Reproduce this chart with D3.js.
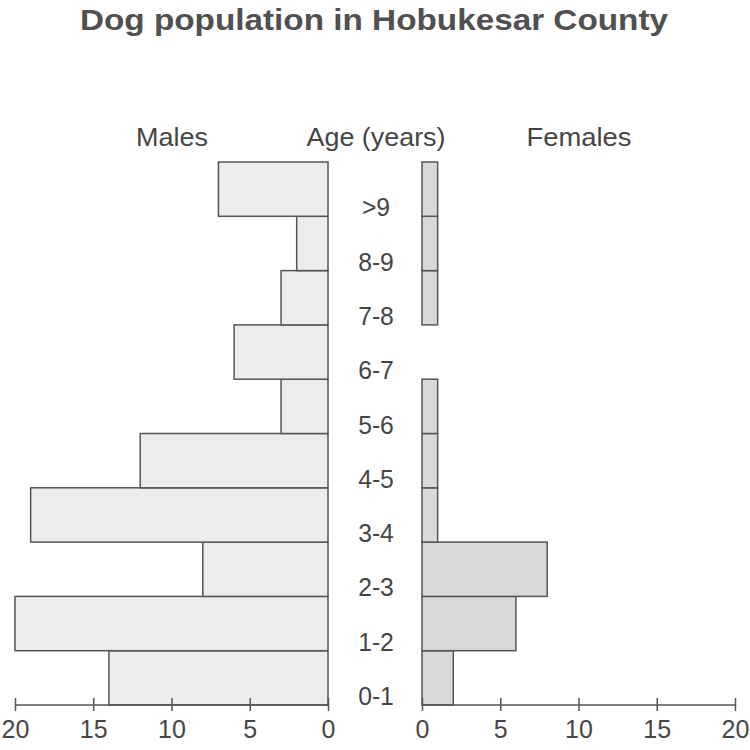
<!DOCTYPE html>
<html><head><meta charset="utf-8">
<script src="https://cdn.jsdelivr.net/npm/d3@7"></script>
<style>body{margin:0;background:#fff}text{font-family:"Liberation Sans",Arial,sans-serif}</style>
</head><body><svg id="c" width="750" height="750"></svg>
<script>
const ages = ["0-1","1-2","2-3","3-4","4-5","5-6","6-7","7-8","8-9",">9"];
const males = [14,20,8,19,12,3,6,3,2,7];
const females = [2,6,8,1,1,1,0,1,1,1];
const ticks = [0,5,10,15,20];

(function(){
const svg = d3.select("#c");
const txt = "#454545";
const yTop = 162, yBottom = 705;
const y = d3.scaleBand().domain(ages.slice().reverse()).range([yTop, yBottom]).padding(0);
const xL = d3.scaleLinear().domain([0,20]).range([328,15]);
const xR = d3.scaleLinear().domain([0,20]).range([422,735]);

svg.append("text").attr("x",374).attr("y",30).attr("text-anchor","middle")
  .attr("font-size",30).attr("font-weight","bold").attr("fill","#505050")
  .attr("textLength",588).attr("lengthAdjust","spacingAndGlyphs")
  .text("Dog population in Hobukesar County");

const heads = [["Males",172,72],["Age (years)",376,139],["Females",579,105]];
heads.forEach(h=>{
  svg.append("text").attr("x",h[1]).attr("y",146).attr("text-anchor","middle").attr("font-size",26)
    .attr("fill",txt).attr("textLength",h[2]).attr("lengthAdjust","spacingAndGlyphs").text(h[0]);
});

svg.selectAll("rect.m").data(ages).enter().append("rect").attr("class","m")
  .attr("x",(d,i)=>xL(males[i])).attr("y",d=>y(d)).attr("width",(d,i)=>xL(0)-xL(males[i]))
  .attr("height",y.bandwidth()).attr("fill","#ececec").attr("stroke","#555").attr("stroke-width",1.5);
svg.selectAll("rect.f").data(ages).enter().append("rect").attr("class","f")
  .attr("x",xR(0)).attr("y",d=>y(d)).attr("width",(d,i)=>xR(females[i])-xR(0))
  .attr("height",y.bandwidth()).attr("fill","#d9d9d9").attr("stroke","#555").attr("stroke-width",1.5);

svg.selectAll("text.age").data(ages).enter().append("text").attr("class","age")
  .attr("x",376).attr("y",d=>y(d)+y.bandwidth()).attr("text-anchor","middle")
  .attr("font-size",26).attr("fill",txt).text(d=>d)
  .each(function(){ this.setAttribute("textLength", this.getComputedTextLength()*0.95); this.setAttribute("lengthAdjust","spacingAndGlyphs"); });

function axis(scale){
  const g = svg.append("g").attr("transform",`translate(0,${yBottom})`);
  const ax = d3.axisBottom(scale).tickValues(ticks).tickSize(7).tickPadding(8).tickFormat(d3.format("d"));
  g.call(ax);
  g.select(".domain").attr("stroke","#555").attr("stroke-width",1.5).attr("d",`M${scale(0)},0H${scale(20)}`);
  g.selectAll(".tick line").attr("stroke","#555").attr("stroke-width",1.5).attr("y1",-7).attr("y2",6);
  g.selectAll(".tick text").attr("font-size",25).attr("fill",txt).attr("font-family","Liberation Sans, Arial, sans-serif");
}
axis(xL); axis(xR);
})();
</script></body></html>
